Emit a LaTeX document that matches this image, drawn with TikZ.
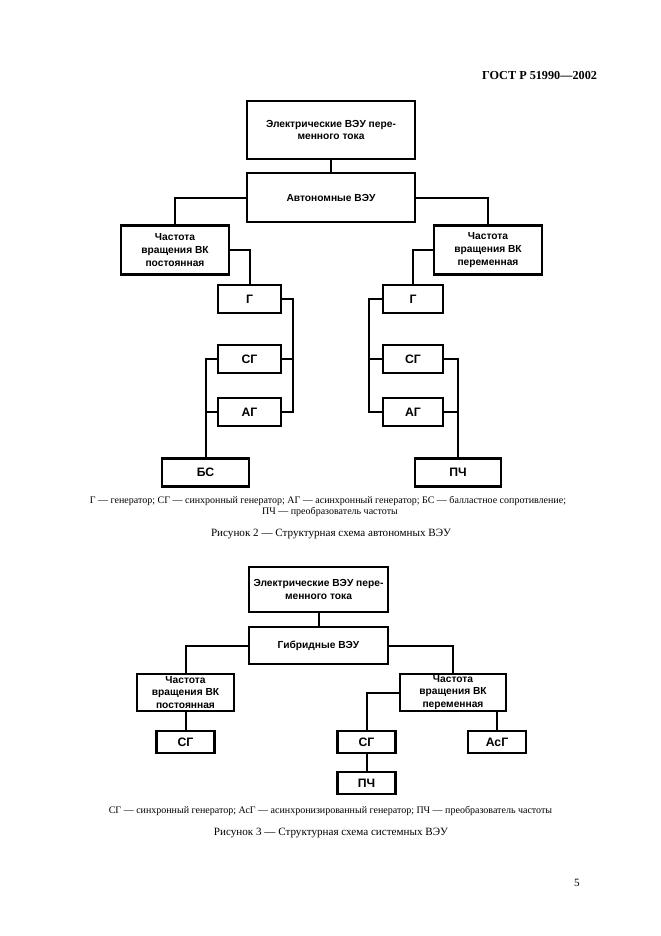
\documentclass[tikz,border=0pt]{standalone}
\usepackage{fontspec}
\setmainfont{Liberation Serif}
\newfontfamily\boxfont{Liberation Sans}
\usetikzlibrary{arrows}
\usetikzlibrary{calc}

\begin{document}
\begin{tikzpicture}[x=0.9pt,y=-0.9pt,line width=1.8pt]
		\tikzstyle{box}=[rectangle,draw,line width=2.2pt,inner sep=0pt,outer sep=0pt,
			align=center,font=\boxfont\bfseries\fontsize{9.2}{11.3}\selectfont];
		\tikzstyle{topbox}=[box,minimum width=151.2pt,minimum height=52.2pt];
		\tikzstyle{kindbox}=[box,minimum width=151.2pt,minimum height=44.1pt];
		\tikzstyle{freqbox}=[box,minimum width=97.2pt,minimum height=44.1pt];
		\tikzstyle{genbox}=[box,minimum width=56.7pt,minimum height=25.2pt,
			font=\boxfont\bfseries\fontsize{11}{13}\selectfont];
		\tikzstyle{endbox}=[genbox,minimum width=78.3pt];
		\tikzstyle{smallbox}=[genbox,minimum width=52.2pt,minimum height=19.8pt];
		\tikzstyle{note}=[inner sep=0pt,font=\fontsize{9}{10}\selectfont];
		\tikzstyle{caption}=[inner sep=0pt,font=\fontsize{10}{12}\selectfont];
		\useasboundingbox[fill=white](0,0)rectangle(661,936);

		\node[anchor=east,inner sep=0pt,font=\bfseries\fontsize{11}{13}\selectfont](head)at(598,75){ГОСТ Р 51990—2002};

		\node[topbox](e2)at(331,130){Электрические ВЭУ пере-\\менного тока};
		\node[kindbox](a2)at(331,197.5){Автономные ВЭУ};
		\node[freqbox](fl2)at(175,250){Частота\\вращения ВК\\постоянная};
		\node[freqbox](fr2)at(488,250){Частота\\вращения ВК\\переменная};
		\node[genbox](gl)at(249.5,299){Г};
		\node[genbox](sgl)at(249.5,359){СГ};
		\node[genbox](agl)at(249.5,412){АГ};
		\node[endbox](bs)at(205.5,472.5){БС};
		\node[genbox,minimum width=54pt](gr)at(413,299){Г};
		\node[genbox,minimum width=54pt](sgr)at(413,359){СГ};
		\node[genbox,minimum width=54pt](agr)at(413,412){АГ};
		\node[endbox,minimum width=77.4pt](pch2)at(458,472.5){ПЧ};

		\draw(e2)--(a2);
		\draw(a2.west)-|(fl2.north);
		\draw(a2.east)-|(fr2.north);
		\draw(fl2.east)-|(gl.north);
		\draw(gl.east)--+(12,0)|-(agl.east);
		\draw(sgl.east)--+(12,0);
		\draw(sgl.west)-|(bs.north);
		\draw(agl.west)--(agl.west-|bs.north);
		\draw(fr2.west)-|(gr.north);
		\draw(gr.west)--+(-14,0)|-(agr.west);
		\draw(sgr.west)--+(-14,0);
		\draw(sgr.east)-|(pch2.north);
		\draw(agr.east)--(agr.east-|pch2.north);

		\node[note](n2a)at(328,501){Г — генератор; СГ — синхронный генератор; АГ — асинхронный генератор; БС — балластное сопротивление;};
		\node[note](n2b)at(330,512){ПЧ — преобразователь частоты};
		\node[caption](c2)at(331,534){Рисунок 2 — Структурная схема автономных ВЭУ};

		\node[box,minimum width=125.1pt,minimum height=40.5pt](e3)at(318.5,589.5){Электрические ВЭУ пере-\\менного тока};
		\node[box,minimum width=125.1pt,minimum height=33.3pt](h3)at(318.5,645.5){Гибридные ВЭУ};
		\node[box,minimum width=87.3pt,minimum height=33.3pt](fl3)at(185.5,692.5){Частота\\вращения ВК\\постоянная};
		\node[box,minimum width=95.4pt,minimum height=33.3pt](fr3)at(453,692.5){Частота\\вращения ВК\\переменная};
		\node[smallbox](sg3l)at(185.5,742){СГ};
		\node[smallbox](sg3r)at(366.5,742){СГ};
		\node[smallbox](pch3)at(366.5,783){ПЧ};
		\node[smallbox](asg)at(497,742){АсГ};

		\draw(e3)--(h3);
		\draw(h3.west)-|(fl3.north);
		\draw(h3.east)-|(fr3.north);
		\draw(fl3)--(sg3l);
		\draw(fr3.west)-|(sg3r.north);
		\draw(sg3r)--(pch3);
		\draw(asg.north)--(asg.north|-fr3.south);

		\node[note](n3)at(330.5,811){СГ — синхронный генератор; АсГ — асинхронизированный генератор; ПЧ — преобразователь частоты};
		\node[caption](c3)at(331,833){Рисунок 3 — Структурная схема системных ВЭУ};

		\node[caption](page)at(577,883){5};
	\end{tikzpicture}
\end{document}
